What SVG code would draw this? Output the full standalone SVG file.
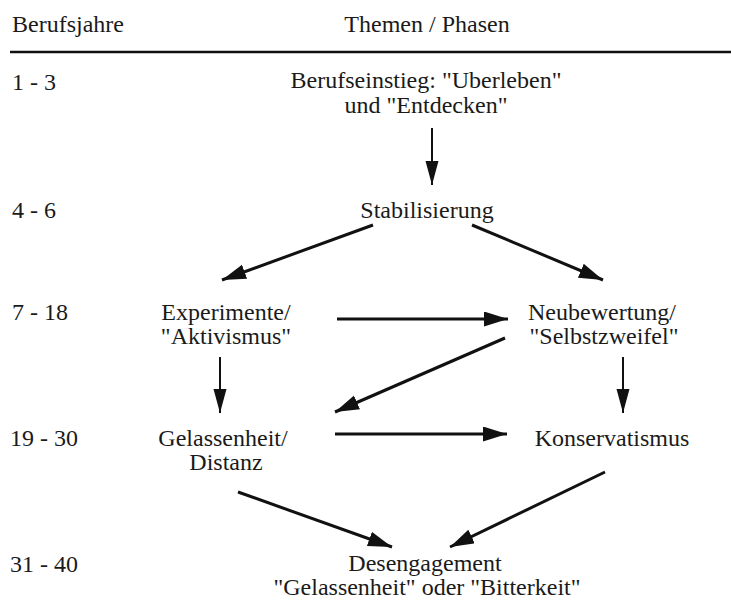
<svg xmlns="http://www.w3.org/2000/svg" width="731" height="603" viewBox="0 0 731 603">
<style>
text{font-size:24px;fill:#1a1a1a}
.n text{text-anchor:middle}
.c line{stroke:#111;fill:none}
.thin{stroke-width:2}
.thick{stroke-width:3}
</style>
<defs>
<marker id="ah" markerUnits="userSpaceOnUse" markerWidth="26" markerHeight="16" refX="24" refY="7.5" orient="auto">
<path d="M0,0 L24,7.5 L0,15 Z" fill="#111"/>
</marker>
<marker id="av" markerUnits="userSpaceOnUse" markerWidth="26" markerHeight="14" refX="24" refY="6.5" orient="auto">
<path d="M0,0 L24,6.5 L0,13 Z" fill="#111"/>
</marker>
</defs>
<rect width="731" height="603" fill="#ffffff"/>
<g font-family="'Liberation Serif', 'Times New Roman', 'DejaVu Serif', serif">
<g id="header">
<text x="12" y="32">Berufsjahre</text>
<text x="427" y="32" text-anchor="middle">Themen / Phasen</text>
<line x1="10" y1="52" x2="731" y2="52" stroke="#111" stroke-width="2.5"/>
</g>
<g id="years">
<text x="12" y="90">1 - 3</text>
<text x="12" y="218">4 - 6</text>
<text x="12" y="320">7 - 18</text>
<text x="10" y="446">19 - 30</text>
<text x="10" y="572">31 - 40</text>
</g>
<g id="n1" class="n"><text x="426" y="88">Berufseinstieg: "Uberleben"</text><text x="426" y="113">und "Entdecken"</text></g>
<g id="n2" class="n"><text x="427" y="218">Stabilisierung</text></g>
<g id="n3" class="n"><text x="226" y="320">Experimente/</text><text x="226" y="344">"Aktivismus"</text></g>
<g id="n4" class="n"><text x="602" y="320">Neubewertung/</text><text x="604" y="344">"Selbstzweifel"</text></g>
<g id="n5" class="n"><text x="223" y="446">Gelassenheit/</text><text x="226" y="470">Distanz</text></g>
<g id="n6" class="n"><text x="612" y="446">Konservatismus</text></g>
<g id="n7" class="n"><text x="425" y="571">Desengagement</text><text x="427" y="595">"Gelassenheit" oder "Bitterkeit"</text></g>
</g>
<g id="connectors" class="c">
<line class="thin" x1="432" y1="128" x2="432" y2="185" marker-end="url(#av)"/>
<line class="thick" x1="373" y1="225" x2="222" y2="280" marker-end="url(#ah)"/>
<line class="thick" x1="472" y1="225" x2="603" y2="280" marker-end="url(#ah)"/>
<line class="thick" x1="337" y1="319" x2="508" y2="319" marker-end="url(#ah)"/>
<line class="thick" x1="505" y1="338" x2="335" y2="412" marker-end="url(#ah)"/>
<line class="thin" x1="220" y1="357" x2="220" y2="413" marker-end="url(#av)"/>
<line class="thin" x1="623" y1="357" x2="623" y2="413" marker-end="url(#av)"/>
<line class="thick" x1="335" y1="434" x2="507" y2="434" marker-end="url(#ah)"/>
<line class="thick" x1="238" y1="492" x2="392" y2="547" marker-end="url(#ah)"/>
<line class="thick" x1="605" y1="472" x2="450" y2="547" marker-end="url(#ah)"/>
</g>
</svg>
